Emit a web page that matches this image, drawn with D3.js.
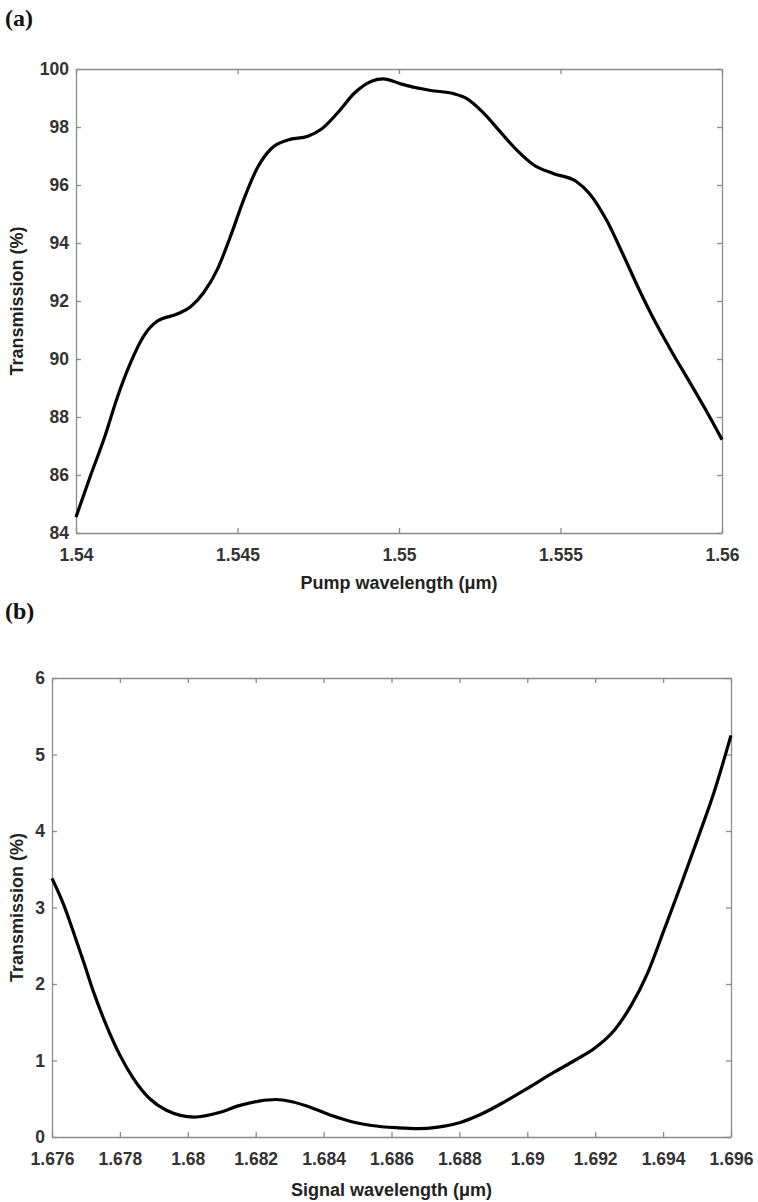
<!DOCTYPE html>
<html>
<head>
<meta charset="utf-8">
<script src="https://cdn.jsdelivr.net/npm/d3@7"></script>
<style>
  html, body { margin: 0; padding: 0; background: #fff; }
  svg { display: block; }
  .tick text { font-family: "Liberation Sans", Arial, sans-serif; font-weight: bold; fill: #333; }
  .title { font-family: "Liberation Sans", Arial, sans-serif; font-weight: bold; fill: #222; }
  .panel { font-family: "Liberation Serif", "Times New Roman", serif; font-weight: bold; fill: #111; }
</style>
</head>
<body>
<svg id="chart" width="758" height="1202"></svg>
<script>
// ---------- Data: panel (a) ----------
const pumpWavelength = [1.5400, 1.54044, 1.5409, 1.54127, 1.54168, 1.5421, 1.54251, 1.54313, 1.54355, 1.54396,
  1.54438, 1.54479, 1.54521, 1.54562, 1.54604, 1.54656, 1.54718, 1.54759, 1.54811, 1.54863,
  1.54915, 1.54951, 1.55008, 1.55050, 1.55098, 1.55169, 1.5521, 1.55262, 1.55313, 1.55364,
  1.55416, 1.55477, 1.55549, 1.5559, 1.55642, 1.55693, 1.55744, 1.55796, 1.55847, 1.55899,
  1.5595, 1.5600];
const pumpTransmission = [84.55, 85.95, 87.35, 88.65, 89.85, 90.80, 91.30, 91.55, 91.80, 92.30,
  93.10, 94.25, 95.55, 96.60, 97.25, 97.55, 97.68, 97.92, 98.50, 99.18,
  99.58, 99.66, 99.48, 99.36, 99.26, 99.15, 98.98, 98.48, 97.84, 97.21,
  96.70, 96.40, 96.12, 95.70, 94.80, 93.62, 92.38, 91.22, 90.20, 89.22,
  88.24, 87.22];
const pumpXTicks = [1.54, 1.545, 1.55, 1.555, 1.56];
const pumpXTickLabels = ["1.54", "1.545", "1.55", "1.555", "1.56"];
const pumpYTicks = [84, 86, 88, 90, 92, 94, 96, 98, 100];

// ---------- Data: panel (b) ----------
const signalWavelength = [1.6760, 1.67634, 1.67663, 1.67693, 1.67722, 1.67761, 1.6780, 1.67839, 1.67888, 1.67937,
  1.6802, 1.68093, 1.68151, 1.6821, 1.68259, 1.68307, 1.68366, 1.68424, 1.68483,
  1.68541, 1.6862, 1.68678, 1.68737, 1.68803, 1.68865, 1.68933, 1.69002, 1.6908, 1.69139,
  1.69198, 1.69257, 1.69306, 1.69355, 1.69404, 1.69453, 1.69502, 1.69551, 1.6960];
const signalTransmission = [3.38, 3.04, 2.68, 2.29, 1.90, 1.45, 1.07, 0.77, 0.50, 0.35,
  0.26, 0.32, 0.41, 0.47, 0.49, 0.46, 0.38, 0.28, 0.20,
  0.15, 0.12, 0.11, 0.13, 0.19, 0.30, 0.46, 0.64, 0.85, 1.00,
  1.16, 1.40, 1.72, 2.15, 2.72, 3.30, 3.90, 4.52, 5.25];
const signalXTicks = [1.676, 1.678, 1.68, 1.682, 1.684, 1.686, 1.688, 1.69, 1.692, 1.694, 1.696];
const signalXTickLabels = ["1.676", "1.678", "1.68", "1.682", "1.684", "1.686", "1.688", "1.69", "1.692", "1.694", "1.696"];
const signalYTicks = [0, 1, 2, 3, 4, 5, 6];

const svg = d3.select("#chart");

function drawPanel(cfg) {
  const x = d3.scaleLinear().domain(cfg.xDomain).range([cfg.left, cfg.right]);
  const y = d3.scaleLinear().domain(cfg.yDomain).range([cfg.bottom, cfg.top]);
  const g = svg.append("g");
  const axisColor = "#8a8a8a";
  const tickLen = 5;

  const topAxis = g.append("g").attr("transform", `translate(0,${cfg.top})`)
    .call(d3.axisTop(x).tickValues(cfg.xTicks).tickSizeInner(-tickLen).tickSizeOuter(0).tickFormat(""));
  const rightAxis = g.append("g").attr("transform", `translate(${cfg.right},0)`)
    .call(d3.axisRight(y).tickValues(cfg.yTicks).tickSizeInner(-tickLen).tickSizeOuter(0).tickFormat(""));
  const bottomAxis = g.append("g").attr("transform", `translate(0,${cfg.bottom})`)
    .call(d3.axisBottom(x).tickValues(cfg.xTicks).tickSizeInner(-tickLen).tickSizeOuter(0)
      .tickPadding(cfg.xPad).tickFormat((d, i) => cfg.xLabels[i]));
  const leftAxis = g.append("g").attr("transform", `translate(${cfg.left},0)`)
    .call(d3.axisLeft(y).tickValues(cfg.yTicks).tickSizeInner(-tickLen).tickSizeOuter(0)
      .tickPadding(cfg.yPad).tickFormat(d3.format("d")));

  [topAxis, rightAxis, bottomAxis, leftAxis].forEach(a => {
    a.select(".domain").attr("stroke", axisColor).attr("stroke-width", 1.3);
    a.selectAll(".tick line").attr("stroke", axisColor).attr("stroke-width", 1.3);
    a.selectAll(".tick text").style("font-size", cfg.tickFont + "px");
  });

  const line = d3.line()
    .x((d, i) => x(cfg.xs[i]))
    .y((d, i) => y(cfg.ys[i]))
    .curve(d3.curveMonotoneX);
  g.append("path")
    .datum(cfg.ys)
    .attr("d", line)
    .attr("fill", "none")
    .attr("stroke", "#000")
    .attr("stroke-width", 3.2)
    .attr("stroke-linejoin", "round")
    .attr("stroke-linecap", "butt");

  g.append("text").attr("class", "title")
    .attr("x", (cfg.left + cfg.right) / 2).attr("y", cfg.xTitleY)
    .attr("text-anchor", "middle").style("font-size", cfg.titleFont + "px")
    .text(cfg.xTitle);
  g.append("text").attr("class", "title")
    .attr("transform", `translate(${cfg.yTitleX},${(cfg.top + cfg.bottom) / 2}) rotate(-90)`)
    .attr("text-anchor", "middle").style("font-size", cfg.titleFont + "px")
    .text(cfg.yTitle);

  g.append("text").attr("class", "panel")
    .attr("x", cfg.labelX).attr("y", cfg.labelY)
    .style("font-size", "24px")
    .text(cfg.label);
}

drawPanel({
  xs: pumpWavelength, ys: pumpTransmission,
  xDomain: [1.54, 1.56], yDomain: [84, 100],
  xTicks: pumpXTicks, xLabels: pumpXTickLabels, yTicks: pumpYTicks,
  left: 76, right: 722, top: 69, bottom: 533,
  xPad: 16, yPad: 7, tickFont: 17.5, titleFont: 18,
  xTitle: "Pump wavelength (μm)", yTitle: "Transmission (%)",
  xTitleY: 589, yTitleX: 23,
  label: "(a)", labelX: 5, labelY: 26
});

drawPanel({
  xs: signalWavelength, ys: signalTransmission,
  xDomain: [1.676, 1.696], yDomain: [0, 6],
  xTicks: signalXTicks, xLabels: signalXTickLabels, yTicks: signalYTicks,
  left: 52, right: 731, top: 678, bottom: 1137,
  xPad: 16, yPad: 7, tickFont: 17.5, titleFont: 18,
  xTitle: "Signal wavelength (μm)", yTitle: "Transmission (%)",
  xTitleY: 1196, yTitleX: 23,
  label: "(b)", labelX: 5, labelY: 619
});
</script>
</body>
</html>
